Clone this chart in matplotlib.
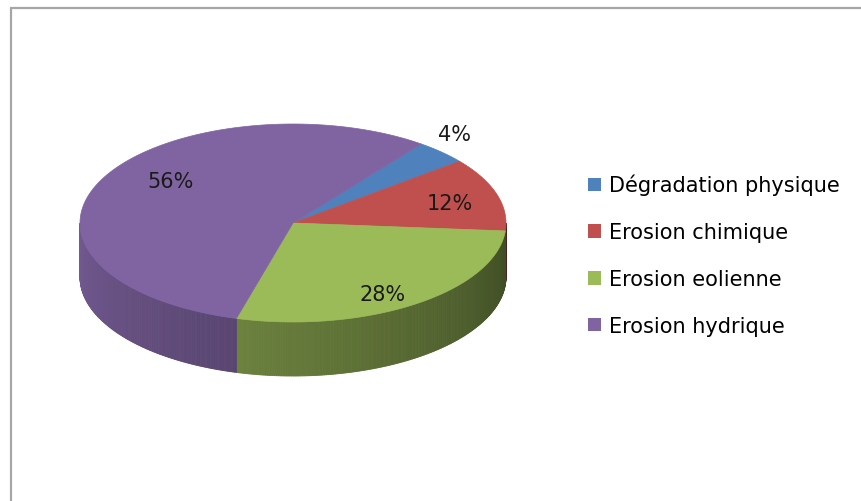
import numpy as np
import matplotlib
matplotlib.use("Agg")
import matplotlib.pyplot as plt
import matplotlib.colors as mcolors
from matplotlib.patches import Polygon, Patch

# Shares of each degradation type (percent)
categories = ["Dégradation physique", "Erosion chimique", "Erosion eolienne", "Erosion hydrique"]
shares = [4, 12, 28, 56]
colors = ["#4F81BD", "#C0504D", "#9BBB59", "#8064A2"]

W, H = 862, 502
fig = plt.figure(figsize=(W / 100, H / 100), dpi=100)
ax = fig.add_axes([0, 0, 1, 1])
ax.set_xlim(0, W)
ax.set_ylim(H, 0)
ax.axis("off")

# chart-area border (top and left edges)
ax.plot([10, W], [9, 9], color="#a6a6a6", lw=1.6, solid_capstyle="butt")
ax.plot([11, 11], [9, H], color="#a6a6a6", lw=1.6, solid_capstyle="butt")

# geometry of the tilted disc
cx, cy, a, b, depth = 293, 224, 213, 99, 54
start = 53.0  # first slice edge, degrees counter-clockwise from 3 o'clock


def rim(t):
    r = np.radians(t)
    return cx + a * np.cos(r), cy - b * np.sin(r)


vals = np.asarray(shares, float)
spans = vals / vals.sum() * 360.0
ends = start - np.cumsum(spans)
starts = ends + spans

# side walls (front half only), shaded darker toward the right
for s, e, c in zip(starts, ends, colors):
    base = np.array(mcolors.to_rgb(c))
    for shift in (0, 360, -360):
        lo = max(e + shift, -180.0)
        hi = min(s + shift, 0.0)
        if hi <= lo:
            continue
        ts = np.linspace(lo, hi, int((hi - lo) / 0.5) + 2)
        for t1, t2 in zip(ts[:-1], ts[1:]):
            tm = 0.5 * (t1 + t2)
            f = 0.40 + 0.5 * (-tm) / 180.0
            rgb = np.clip(base * f, 0, 1)
            x1, y1 = rim(t1)
            x2, y2 = rim(t2)
            ax.add_patch(Polygon([(x1, y1), (x2, y2), (x2, y2 + depth), (x1, y1 + depth)],
                                 closed=True, facecolor=rgb, edgecolor=rgb, lw=0.6))

# top faces
for s, e, c in zip(starts, ends, colors):
    ts = np.linspace(s, e, max(int(abs(s - e)), 2) + 1)
    pts = [(cx, cy)] + [rim(t) for t in ts]
    ax.add_patch(Polygon(pts, closed=True, facecolor=c, edgecolor=c, lw=0.5))

# value labels
label_pos = [(1.09, 1.25), (0.77, 0.70), (0.73, 0.87), (0.64, 0.97)]
for s, e, v, (fx, fy) in zip(starts, ends, shares, label_pos):
    m = np.radians(0.5 * (s + e))
    ax.text(cx + a * fx * np.cos(m), cy - b * fy * np.sin(m), f"{v}%",
            ha="center", va="center", fontsize=15, color="#1a1a1a",
            family="DejaVu Sans")

handles = [Patch(facecolor=c, edgecolor="none") for c in colors]
fig.legend(handles, categories, loc="upper left",
           bbox_to_anchor=(588 / W, 1 - 175 / H), frameon=False,
           handlelength=0.6, handleheight=0.6,
           handletextpad=0.4, labelspacing=1.29, borderpad=0,
           borderaxespad=0, prop={"family": "DejaVu Sans", "size": 15})

fig.savefig("out.png", dpi=100, facecolor="white")
